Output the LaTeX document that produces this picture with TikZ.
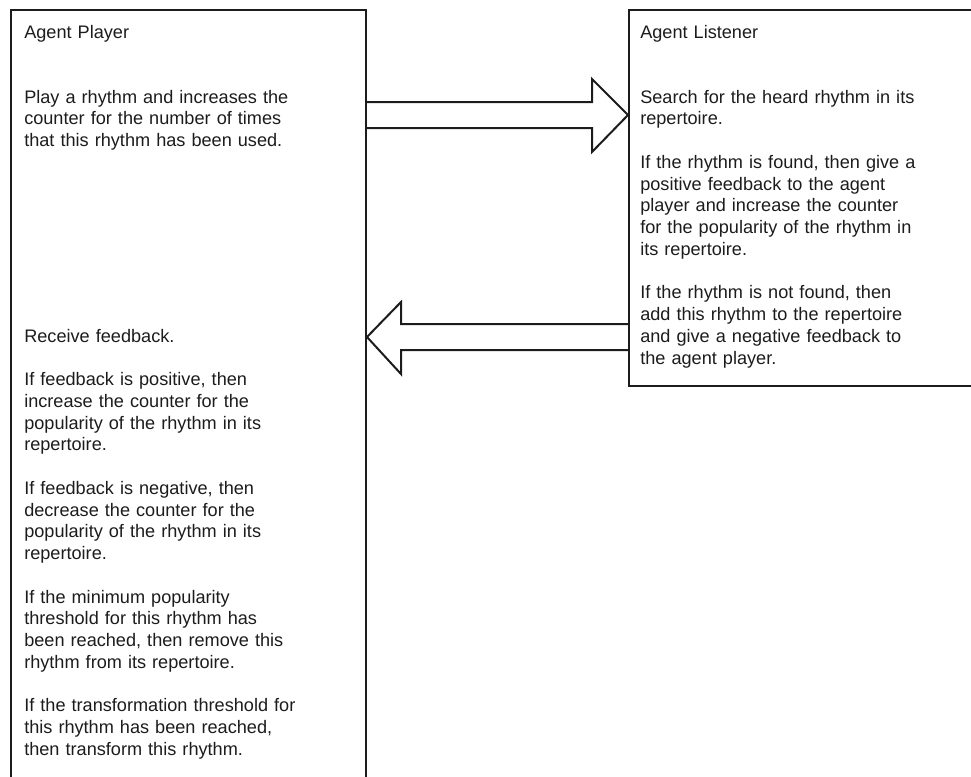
\documentclass[tikz,border=0pt]{standalone}
\usepackage{fontspec}
\setmainfont{Liberation Sans}
\usepackage{xcolor}
\usepackage{tikz}
\definecolor{ink}{HTML}{1C1C1C}
\newcommand{\skiplines}[1]{\\[#1\baselineskip]}

\begin{document}
\begin{tikzpicture}[x=0.75pt,y=-0.75pt,
  agentbox/.style={rectangle,draw=ink,line width=1.5pt,anchor=north west,inner sep=0pt},
  agenttext/.style={anchor=base west,inner sep=0pt,text width=250pt,align=left,text=ink,font=\fontsize{13.6}{16.3}\selectfont},
  blockarrow/.style={draw=ink,line width=1.5pt,line join=miter}]
  \useasboundingbox (0,0) rectangle (971,776);
  \clip (0,0) rectangle (971,776);
  % the two agents
  \node[agentbox,minimum width=266.25pt,minimum height=593.25pt] (player) at (10,9) {};
  \node[agentbox,minimum width=279pt,minimum height=282pt] (listener) at (628,9) {};
  \begin{scope}[every node/.style={agenttext}]
    \node (playertext) at (24,38) {Agent Player\skiplines{2}
      Play a rhythm and increases the\\
      counter for the number of times\\
      that this rhythm has been used.\skiplines{8}
      Receive feedback.\skiplines{1}
      If feedback is positive, then\\
      increase the counter for the\\
      popularity of the rhythm in its\\
      repertoire.\skiplines{1}
      If feedback is negative, then\\
      decrease the counter for the\\
      popularity of the rhythm in its\\
      repertoire.\skiplines{1}
      If the minimum popularity\\
      threshold for this rhythm has\\
      been reached, then remove this\\
      rhythm from its repertoire.\skiplines{1}
      If the transformation threshold for\\
      this rhythm has been reached,\\
      then transform this rhythm.};
    \node (listenertext) at (640,38) {Agent Listener\skiplines{2}
      Search for the heard rhythm in its\\
      repertoire.\skiplines{1}
      If the rhythm is found, then give a\\
      positive feedback to the agent\\
      player and increase the counter\\
      for the popularity of the rhythm in\\
      its repertoire.\skiplines{1}
      If the rhythm is not found, then\\
      add this rhythm to the repertoire\\
      and give a negative feedback to\\
      the agent player.};
  \end{scope}
  % rhythm played, feedback returned
  \draw[blockarrow] (player.east |- 0,102) -- (592,102) -- (592,79) -- (listener.west |- 0,115)
    -- (592,152) -- (592,128) -- (player.east |- 0,128);
  \draw[blockarrow] (listener.west |- 0,324) -- (401,324) -- (401,302) -- (player.east |- 0,337)
    -- (401,374) -- (401,350) -- (listener.west |- 0,350);
\end{tikzpicture}
\end{document}
